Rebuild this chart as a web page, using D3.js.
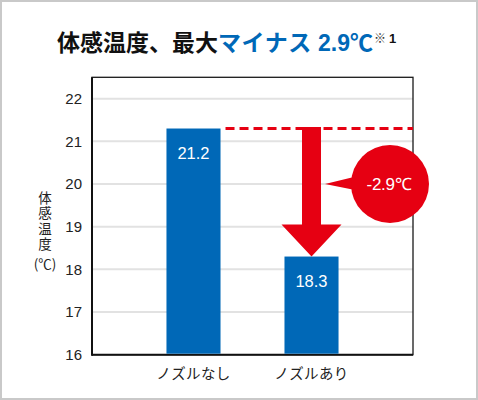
<!DOCTYPE html>
<html><head><meta charset="utf-8">
<script src="https://cdn.jsdelivr.net/npm/d3@7"></script>
<style>
html,body{margin:0;padding:0;background:#fff;}
svg{display:block;}
</style>
</head><body>
<svg id="chart" width="478" height="400"></svg>
<script>
// ---- data ----
const categories = ["ノズルなし", "ノズルあり"];
const values = [21.3, 18.3];          // bar heights as drawn
const valueLabels = ["21.2", "18.3"]; // printed labels
const yTicks = [16, 17, 18, 19, 20, 21, 22];
const yDomain = [16, 22.5];
const diffLabel = "-2.9℃";
const calloutLevel = 20;
const titleBlack = "体感温度、最大";
const titleBlueKana = "マイナス";
const titleBlueNum = "2.9";
const titleBlueUnit = "℃";
const titleNote = "※";
const titleNoteNum = "1";
const yTitle = "体感温度";
const yTitleUnit = "(℃)";

// ---- layout ----
const W = 478, H = 400;
const L = 92, R = 413, T = 77.3, B = 354.7;
const RED = "#e60012", BLUE = "#0068b7";
const JP = "'Noto Sans CJK JP','Noto Sans',sans-serif";
const LAT = "'Liberation Sans',Arial,sans-serif";

const svg = d3.select("#chart");

// outer frame
svg.append("rect").attr("x", 1).attr("y", 1).attr("width", W - 2).attr("height", H - 2)
  .attr("fill", "#fff").attr("stroke", "#c9c9c9").attr("stroke-width", 2);

const y = d3.scaleLinear().domain(yDomain).range([B, T]);
const x = d3.scaleBand().domain(categories).range([L, R])
  .paddingInner(0.542).paddingOuter(0.631);

// gridlines
svg.append("g").selectAll("line").data(yTicks.filter(d => d > yDomain[0]))
  .join("line")
  .attr("x1", L).attr("x2", R)
  .attr("y1", d => y(d)).attr("y2", d => y(d))
  .attr("stroke", "#e2e2e2").attr("stroke-width", 2);

// plot frame
svg.append("rect").attr("x", L).attr("y", T).attr("width", R - L).attr("height", B - T)
  .attr("fill", "none").attr("stroke", "#1a1a1a").attr("stroke-width", 1.3);

// y axis
const yAxis = svg.append("g").attr("transform", `translate(${L},0)`)
  .call(d3.axisLeft(y).tickValues(yTicks).tickSize(0).tickPadding(10).tickFormat(d3.format("d")));
yAxis.select(".domain").remove();
yAxis.selectAll("text").attr("font-family", LAT).attr("font-size", 15).attr("fill", "#222");

// axis lines (left + bottom heavier)
svg.append("line").attr("x1", L).attr("x2", L).attr("y1", T).attr("y2", B + 1)
  .attr("stroke", "#111").attr("stroke-width", 2);
svg.append("line").attr("x1", L).attr("x2", R).attr("y1", B).attr("y2", B)
  .attr("stroke", "#111").attr("stroke-width", 2);

// bars
svg.append("g").selectAll("rect").data(categories).join("rect")
  .attr("x", d => x(d)).attr("width", x.bandwidth())
  .attr("y", (d, i) => y(values[i]))
  .attr("height", (d, i) => B - 1 - y(values[i]))
  .attr("fill", BLUE);

// value labels
svg.append("g").selectAll("text").data(categories).join("text")
  .attr("x", d => x(d) + x.bandwidth() / 2)
  .attr("y", (d, i) => y(values[i]) + 24)
  .attr("dominant-baseline", "central")
  .attr("text-anchor", "middle")
  .attr("font-family", LAT).attr("font-size", 16.5).attr("fill", "#fff")
  .text((d, i) => valueLabels[i]);

// x labels
svg.append("g").selectAll("text").data(categories).join("text")
  .attr("x", d => x(d) + x.bandwidth() / 2)
  .attr("y", B + 18)
  .attr("dominant-baseline", "central")
  .attr("text-anchor", "middle")
  .attr("font-family", JP).attr("font-size", 14.5).attr("fill", "#222")
  .attr("letter-spacing", 0.4)
  .text(d => d);

// dashed reference line
const yRef = y(values[0]);
svg.append("line")
  .attr("x1", x(categories[0]) + x.bandwidth() + 5).attr("x2", R)
  .attr("y1", yRef).attr("y2", yRef)
  .attr("stroke", RED).attr("stroke-width", 3).attr("stroke-dasharray", "9,5");

// arrow
const cx = x(categories[1]) + x.bandwidth() / 2;
const tipY = y(values[1]);
const headBase = tipY - 32;
const sw = 9.5, hw = 30;
svg.append("path")
  .attr("d", `M${cx - sw},${yRef - 1.5} L${cx + sw},${yRef - 1.5} L${cx + sw},${headBase} L${cx + hw},${headBase} L${cx},${tipY} L${cx - hw},${headBase} L${cx - sw},${headBase} Z`)
  .attr("fill", RED);

// callout
const ccx = R - 23, ccy = y(calloutLevel), cr = 39;
svg.append("path")
  .attr("d", `M${cx + sw + 4},${ccy} L${ccx - 32},${ccy - 8} L${ccx - 30},${ccy + 7} Z`)
  .attr("fill", RED);
svg.append("circle").attr("cx", ccx).attr("cy", ccy).attr("r", cr).attr("fill", RED);
svg.append("text").attr("x", ccx - 1).attr("y", ccy + 1)
  .attr("text-anchor", "middle").attr("dominant-baseline", "central")
  .attr("font-family", LAT).attr("font-size", 17).attr("fill", "#fff")
  .attr("letter-spacing", -0.3)
  .text(diffLabel);

// y title (vertical writing)
svg.append("text")
  .attr("x", 45).attr("y", 191)
  .style("writing-mode", "vertical-rl")
  .attr("font-family", JP).attr("font-size", 13.5).attr("fill", "#222")
  .attr("letter-spacing", 1.9)
  .text(yTitle);
svg.append("text").attr("x", 45).attr("y", 269)
  .attr("text-anchor", "middle")
  .attr("font-family", JP).attr("font-size", 13.5).attr("fill", "#222")
  .text(yTitleUnit);

// title
const title = svg.append("text").attr("x", 57).attr("y", 51)
  .attr("font-family", JP).attr("font-weight", "bold").attr("font-size", 23);
title.append("tspan").attr("fill", "#111").text(titleBlack);
title.append("tspan").attr("fill", BLUE).attr("letter-spacing", 0.6).text(titleBlueKana);
title.append("tspan").attr("fill", BLUE).attr("font-family", LAT).attr("dx", 6).text(titleBlueNum);
title.append("tspan").attr("fill", BLUE).text(titleBlueUnit);
title.append("tspan").attr("fill", "#333").attr("font-size", 12).attr("font-weight", "normal")
  .attr("dy", -8).attr("dx", 1).text(titleNote);
title.append("tspan").attr("fill", "#111").attr("font-family", LAT).attr("font-size", 13).attr("dx", 3).text(titleNoteNum);
</script>
</body></html>
